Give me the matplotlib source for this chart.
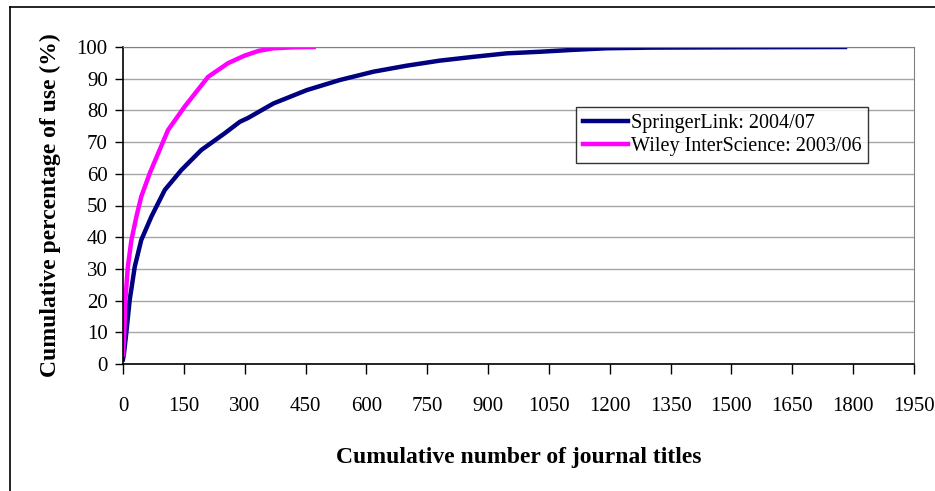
import matplotlib.pyplot as plt
from matplotlib.lines import Line2D

# Cumulative curves
springer_x = [0, 2.5, 8, 16.5, 29, 45, 70, 103, 144, 193, 251, 288, 308, 371,
              453, 535, 617, 699, 781, 864, 946, 1028, 1110, 1192, 1300, 1500, 1780]
springer_y = [1.5, 3.4, 9.7, 20.2, 30.7, 39.1, 46.5, 54.9, 61.2, 67.5, 72.8, 76.4, 77.6, 82.2,
              86.4, 89.6, 92.2, 94.1, 95.7, 96.9, 98.0, 98.5, 99.1, 99.6, 99.8, 99.9, 100]

wiley_x = [0, 2.5, 5.8, 12, 20.6, 33, 45, 66, 111, 152, 210, 259, 300, 335, 370, 420, 470]
wiley_y = [3, 7.6, 20.2, 30.7, 39, 46.5, 52.8, 60.2, 73.8, 81.2, 90.6, 94.9, 97.3, 98.8, 99.6, 99.9, 100]

x_ticks = list(range(0, 1951, 150))
y_ticks = list(range(0, 101, 10))

plt.rcParams["font.family"] = ["Liberation Serif", "DejaVu Serif"]

fig = plt.figure(figsize=(9.35, 4.91), dpi=100)
ax = fig.add_axes([123 / 935, 1 - 364 / 491, 791 / 935, 317 / 491])

ax.plot(springer_x, springer_y, color="#000080", linewidth=3.2,
        label="SpringerLink: 2004/07", solid_joinstyle="round")
ax.plot(wiley_x, wiley_y, color="#FF00FF", linewidth=3.2,
        label="Wiley InterScience: 2003/06", solid_joinstyle="round")

ax.set_xlim(0, 1950)
ax.set_ylim(0, 100)
ax.set_xticks(x_ticks)
ax.set_yticks(y_ticks)
ax.tick_params(axis="x", direction="out", length=7, width=1, pad=17, labelsize=15)
ax.tick_params(axis="y", direction="out", length=6, width=1, pad=5, labelsize=15)

ax.grid(axis="y", color="#a6a6a6", linewidth=1)
ax.set_axisbelow(True)
for side in ("top", "right"):
    ax.spines[side].set_color("#808080")
for side in ("left", "bottom"):
    ax.spines[side].set_color("black")
    ax.spines[side].set_linewidth(1.2)

ax.set_xlabel("Cumulative number of journal titles", fontsize=17,
              fontweight="bold", labelpad=22)
ax.set_ylabel("Cumulative percentage of use (%)", fontsize=17,
              fontweight="bold", labelpad=11)

leg = ax.legend(loc="upper left", bbox_to_anchor=(0.573, 0.811), fontsize=14.5,
                frameon=True, fancybox=False, edgecolor="black",
                handlelength=2.2, handletextpad=0.15, borderpad=0.35,
                labelspacing=0.2, borderaxespad=0)
leg.get_frame().set_linewidth(1)

# Outer chart border (top and left edges visible)
fig.add_artist(Line2D([10 / 935, 10 / 935], [0, 1 - 7 / 491],
                      transform=fig.transFigure, color="black", linewidth=1.2))
fig.add_artist(Line2D([10 / 935, 1], [1 - 7 / 491, 1 - 7 / 491],
                      transform=fig.transFigure, color="black", linewidth=1.2))

fig.savefig("out.png", dpi=100)
